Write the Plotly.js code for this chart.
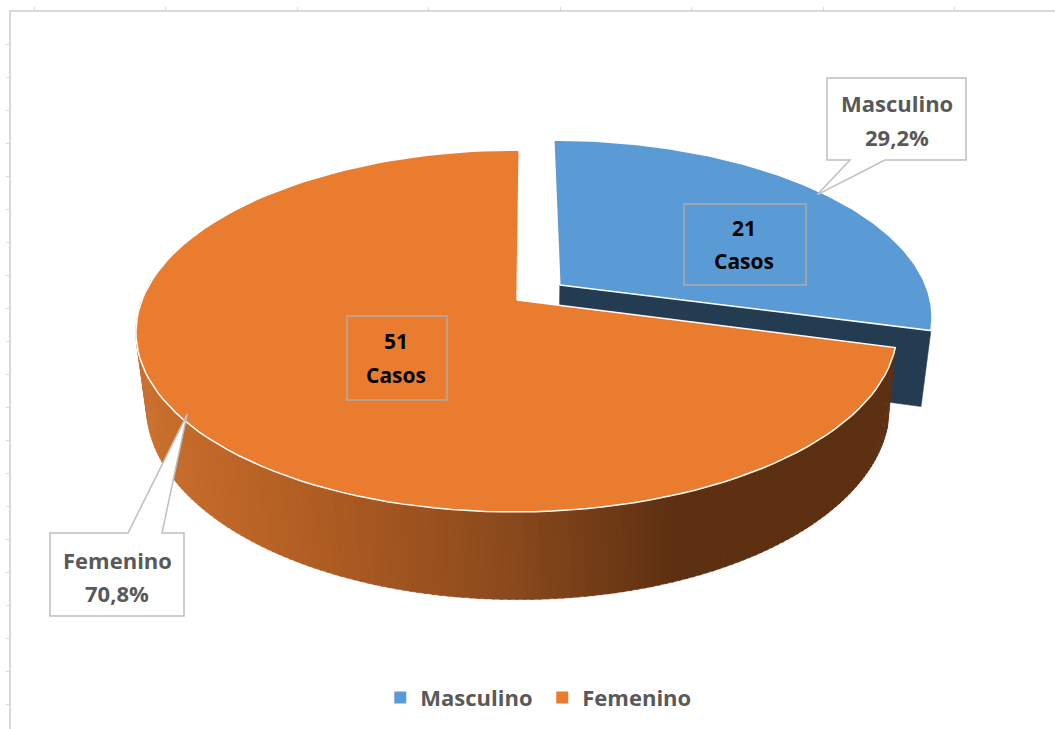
<!DOCTYPE html>
<html>
<head>
<meta charset="utf-8">
<script src="https://cdn.plot.ly/plotly-3.0.1.min.js"></script>
<style>html,body{margin:0;padding:0;background:#fff}#chart{width:1055px;height:729px}</style>
</head>
<body>
<div id="chart"></div>
<script>
// ---- data ----
const categories = ['Masculino', 'Femenino'];
const casos = [21, 51];
const topColors = ['#5b9bd5', '#ea7c30'];
const cutFaceColor = '#243c52';
const wallStops = [[137, [203, 112, 46]], [300, [178, 94, 35]], [500, [140, 74, 28]], [675, [93, 48, 18]], [900, [93, 48, 18]]];
const gridTicksX = [34, 165.5, 297, 428.5, 560, 691.5, 823, 954.5];
const gridTicksY = [44, 77, 110, 143, 176, 209, 242, 275, 308, 341, 374, 407, 440, 473, 506, 539, 572, 605, 638, 671, 704];

// ---- projection of the pie's disc onto the page (axes are in page units) ----
const K = 0.171, TOP = {cx: 518, cy: 300, a: 375, b: 175.7}, BOT = {cx: 518, cy: 374, a: 366, b: 187};
const EXPLODE = [0.135, 0], RADIUS = [0.99, 1], NUDGE = [[0.006, 0.005], [0, 0]], SKEW = [0, 0.015], SHIFT = [0, -1];
function project(plane, X, Y) {
  const w = 1 + K * Y;
  return [plane.cx + plane.a * X / w, plane.cy - plane.b * Y / w];
}
const total = casos.reduce((a, b) => a + b, 0);
const DEG = Math.PI / 180;
let acc = 0;
const wedges = casos.map((v, i) => {
  const from = acc / total * 360;
  acc += v;
  const to = acc / total * 360, mid = (from + to) / 2;
  return {from, to, mid, r: RADIUS[i], skew: SKEW[i], shift: SHIFT[i],
    dx: EXPLODE[i] * Math.sin(mid * DEG) + NUDGE[i][0], dy: EXPLODE[i] * Math.cos(mid * DEG) + NUDGE[i][1]};
});
function place(plane, w, X, Y) {
  const p = project(plane, X, Y);
  if (plane === TOP) p[0] += (TOP.cy - p[1]) * w.skew + w.shift;
  return p;
}
function rim(plane, w, deg) {
  return place(plane, w, w.dx + w.r * Math.sin(deg * DEG), w.dy + w.r * Math.cos(deg * DEG));
}
function apex(plane, w) { return place(plane, w, w.dx, w.dy); }
function poly(points) {
  const closed = points.concat([points[0]]);
  return {x: closed.map(p => p[0]), y: closed.map(p => p[1])};
}
function wedgeOutline(plane, w) {
  const pts = [apex(plane, w)];
  for (let d = w.from; d <= w.to + 1e-6; d += (w.to - w.from) / 120) pts.push(rim(plane, w, d));
  return pts;
}
function wallColor(x) {
  for (let i = 1; i < wallStops.length; i++) {
    if (x <= wallStops[i][0]) {
      const [x0, c0] = wallStops[i - 1], [x1, c1] = wallStops[i];
      const t = Math.max(0, (x - x0) / (x1 - x0));
      return 'rgb(' + c0.map((c, k) => Math.round(c + (c1[k] - c) * t)).join(',') + ')';
    }
  }
  const last = wallStops[wallStops.length - 1][1];
  return 'rgb(' + last.join(',') + ')';
}
const base = {type: 'scatter', mode: 'lines', fill: 'toself', hoverinfo: 'skip', showlegend: false};
const traces = [];

// Masculino: radial cut face, then top
const m = wedges[0], f = wedges[1];
traces.push(Object.assign({}, base, poly([apex(TOP, m), rim(TOP, m, m.to), rim(BOT, m, m.to), apex(BOT, m)]),
  {fillcolor: cutFaceColor, line: {color: cutFaceColor, width: 0.5}}));
traces.push(Object.assign({}, base, poly(wedgeOutline(TOP, m)),
  {fillcolor: topColors[0], line: {color: '#ffffff', width: 1.5}}));

// Femenino: outer wall in narrow bands, then top
const STEP = 1;
for (let d = f.from; d < 290; d += STEP) {
  const a = rim(TOP, f, d), b = rim(TOP, f, d + STEP + 0.3), c = rim(BOT, f, d + STEP + 0.3), e = rim(BOT, f, d);
  const col = wallColor((a[0] + b[0]) / 2);
  traces.push(Object.assign({}, base, poly([a, b, c, e]), {fillcolor: col, line: {color: col, width: 0.5}}));
}
traces.push(Object.assign({}, base, poly(wedgeOutline(TOP, f)),
  {fillcolor: topColors[1], line: {color: '#ffffff', width: 1.5}}));

// legend entries
categories.forEach((name, i) => traces.push({
  type: 'scatter', mode: 'markers', x: [null], y: [null], name, hoverinfo: 'skip',
  marker: {symbol: 'square', size: 9, color: topColors[i]}
}));

// ---- callouts and value boxes ----
const calloutLine = {color: '#bfbfbf', width: 1.5};
const labelBoxes = [
  {box: [827, 78, 966, 160], base: [850, 885], edge: 160, w: m, lines: [103, 137], cx: 896.5, tipOffset: [-2, 3]},
  {box: [50, 533, 184, 616], base: [128, 162], edge: 533, w: f, lines: [560, 593], cx: 117, tipOffset: [4, -5]}
];
const valueBoxes = [
  {box: [684, 204, 806, 285], lines: [228, 261], cx: 744},
  {box: [347, 316, 447, 400], lines: [341, 375], cx: 396}
];
const shapes = [], annotations = [];
const labelFont = {family: '"Open Sans", sans-serif', size: 22, color: '#595959', weight: 700};
const valueFont = {family: '"Open Sans", sans-serif', size: 21, color: '#000000', weight: 700};
function addText(x, y, text, font) {
  annotations.push({x, y, text, font, showarrow: false, xref: 'x', yref: 'y', xanchor: 'center', yanchor: 'middle'});
}
labelBoxes.forEach((c, i) => {
  const r = rim(TOP, c.w, c.w.mid);
  const tip = [r[0] + c.tipOffset[0], r[1] + c.tipOffset[1]];
  const [x0, y0, x1, y1] = c.box;
  const down = c.edge === y1;
  const path = down
    ? `M${x0},${y0}L${x1},${y0}L${x1},${y1}L${c.base[1]},${y1}L${tip[0]},${tip[1]}L${c.base[0]},${y1}L${x0},${y1}Z`
    : `M${x0},${y1}L${x1},${y1}L${x1},${y0}L${c.base[1]},${y0}L${tip[0]},${tip[1]}L${c.base[0]},${y0}L${x0},${y0}Z`;
  shapes.push({type: 'path', path, xref: 'x', yref: 'y', fillcolor: '#ffffff', line: calloutLine, layer: 'above'});
  addText(c.cx, c.lines[0], categories[i], labelFont);
  addText(c.cx, c.lines[1], (casos[i] / total * 100).toFixed(1).replace('.', ',') + '%', labelFont);
});
valueBoxes.forEach((c, i) => {
  const [x0, y0, x1, y1] = c.box;
  shapes.push({type: 'rect', x0, y0, x1, y1, xref: 'x', yref: 'y', fillcolor: 'rgba(0,0,0,0)', line: {color: '#b0aca8', width: 1.5}, layer: 'above'});
  addText(c.cx, c.lines[0], String(casos[i]), valueFont);
  addText(c.cx, c.lines[1], 'Casos', valueFont);
});

const layout = {
  width: 1055, height: 729,
  margin: {l: 0, r: 0, t: 0, b: 0},
  paper_bgcolor: '#ffffff', plot_bgcolor: '#ffffff',
  xaxis: {domain: [11 / 1055, 1], range: [11, 1055], side: 'top', showgrid: false, zeroline: false, showticklabels: false,
    showline: true, linecolor: '#d9d9d9', linewidth: 2, ticks: 'outside', ticklen: 3, tickcolor: '#d9d9d9', tickwidth: 1,
    tickmode: 'array', tickvals: gridTicksX, fixedrange: true},
  yaxis: {domain: [0, 1 - 12 / 729], range: [729, 12], showgrid: false, zeroline: false, showticklabels: false,
    showline: true, linecolor: '#d9d9d9', linewidth: 2, ticks: 'outside', ticklen: 3, tickcolor: '#d9d9d9', tickwidth: 1,
    tickmode: 'array', tickvals: gridTicksY, fixedrange: true},
  showlegend: true,
  legend: {orientation: 'h', x: 0.514, xanchor: 'center', y: 0.043, yanchor: 'middle', entrywidth: 117, entrywidthmode: 'pixels',
    font: {family: '"Open Sans", sans-serif', size: 22, color: '#595959', weight: 700},
    itemsizing: 'constant', itemclick: false, itemdoubleclick: false, bgcolor: 'rgba(0,0,0,0)'},
  shapes, annotations
};
Plotly.newPlot('chart', traces, layout, {displayModeBar: false, staticPlot: true});
</script>
</body>
</html>
